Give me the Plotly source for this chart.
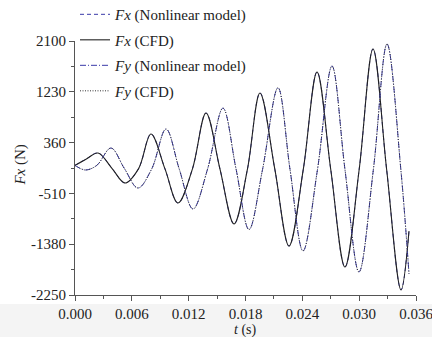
import plotly.graph_objects as go

# Fx series (leading curve)
t_fx = [0.0, 0.0012, 0.00243, 0.0039, 0.00528, 0.0067, 0.00802, 0.0095, 0.01087, 0.0124,
        0.01383, 0.0153, 0.01679, 0.0182, 0.01953, 0.0211, 0.02259, 0.0241, 0.02555, 0.0270,
        0.0285, 0.0300, 0.03146, 0.0329, 0.03442, 0.03526]
fx_cfd = [-30, 80, 182, -80, -332, -90, 507, -90, -674, -90,
          867, -90, -1034, -100, 1209, -100, -1411, -100, 1569, -100,
          -1770, -100, 1963, -100, -2164, -1154]
fx_nl = [-30, 80, 182, -80, -332, -90, 507, -90, -674, -90,
         867, -90, -1034, -100, 1209, -100, -1411, -100, 1569, -100,
         -1770, -100, 1963, -100, -2164, -1154]

# Fy series (lagging curve)
t_fy = [0.0, 0.0011, 0.0023, 0.0038, 0.0052, 0.00665, 0.0081, 0.00961, 0.0110, 0.01246,
        0.0140, 0.01562, 0.0170, 0.01837, 0.0198, 0.02143, 0.0227, 0.02407, 0.0256, 0.02713,
        0.0285, 0.02998, 0.0315, 0.03294, 0.0344, 0.03526]
fy_cfd = [-30, -109, -30, 267, -80, -418, -90, 593, -90, -777,
          -90, 950, -90, -1130, -100, 1300, -100, -1496, -100, 1672,
          -100, -1856, -100, 2049, -100, -1890]
fy_nl = [-30, -109, -30, 267, -80, -418, -90, 593, -90, -777,
         -90, 950, -90, -1130, -100, 1300, -100, -1496, -100, 1672,
         -100, -1856, -100, 2049, -100, -1890]

y_ticks = [-2250, -1380, -510, 360, 1230, 2100]
y_tick_labels = ["-2250", "-1380", "-510", "360", "1230", "2100"]
y_minor = [-1815, -945, -75, 795, 1665]
x_ticks = [0.000, 0.006, 0.012, 0.018, 0.024, 0.030, 0.036]

FONT = "Liberation Serif"
BLUE = "#3a3aa8"

fig = go.Figure()
fig.add_trace(go.Scatter(x=t_fx, y=fx_nl, mode="lines", name="<i>Fx</i> (Nonlinear model)",
                         line=dict(color=BLUE, width=1, dash="4px,3px", shape="spline", smoothing=1.0),
                         legendgroup="a"))
fig.add_trace(go.Scatter(x=t_fx, y=fx_cfd, mode="lines", name="<i>Fx</i> (CFD)",
                         line=dict(color="#222222", width=1.1, shape="spline", smoothing=1.0),
                         legendgroup="b"))
fig.add_trace(go.Scatter(x=t_fy, y=fy_nl, mode="lines", name="<i>Fy</i> (Nonlinear model)",
                         line=dict(color=BLUE, width=1, dash="6px,2px,1px,2px", shape="spline", smoothing=1.0),
                         legendgroup="c"))
fig.add_trace(go.Scatter(x=t_fy, y=fy_cfd, mode="lines", name="<i>Fy</i> (CFD)",
                         line=dict(color="#333333", width=1, dash="1px,1.5px", shape="spline", smoothing=1.0),
                         legendgroup="d"))

fig.update_layout(
    width=432, height=337,
    margin=dict(l=75, r=16, t=41, b=42, autoexpand=False),
    paper_bgcolor="white", plot_bgcolor="white",
    font=dict(family=FONT, size=15, color="#222222"),
    showlegend=True,
    legend=dict(x=0.0, y=1.169, xref="paper", yref="paper", xanchor="left", yanchor="top",
                bgcolor="rgba(0,0,0,0)", traceorder="grouped", tracegroupgap=3,
                font=dict(family=FONT, size=15), itemwidth=30),
    shapes=[dict(type="rect", xref="paper", yref="paper", x0=-0.3, x1=1.1, y0=-0.18, y1=-0.035,
                 fillcolor="#f4f4f4", line=dict(width=0), layer="below")],
    annotations=[
        dict(text="<i>t</i> (s)", xref="paper", yref="paper", x=0.5, y=-0.138,
             xanchor="center", yanchor="middle", showarrow=False, font=dict(family=FONT, size=14)),
        dict(text="<i>Fx</i> (N)", xref="paper", yref="paper", x=-0.161, y=0.51, textangle=-90,
             xanchor="center", yanchor="middle", showarrow=False, font=dict(family=FONT, size=15)),
    ],
)
fig.update_xaxes(range=[0, 0.036], tickvals=x_ticks, tickformat=".3f", ticklabeloverflow="allow",
                 showline=True, linecolor="#555555", linewidth=1, mirror=False,
                 ticks="outside", ticklen=5, tickcolor="#555555", showgrid=False, zeroline=False,
                 minor=dict(ticks="outside", ticklen=3, dtick=0.003, tickcolor="#555555"))
fig.update_yaxes(range=[-2250, 2100], tickvals=y_ticks, ticktext=y_tick_labels, ticklabeloverflow="allow",
                 showline=True, linecolor="#555555", linewidth=1, mirror=False,
                 ticks="outside", ticklen=5, tickcolor="#555555", showgrid=False, zeroline=False,
                 minor=dict(ticks="outside", ticklen=3, tickvals=y_minor, tickcolor="#555555"))

fig.write_html("out.html")
